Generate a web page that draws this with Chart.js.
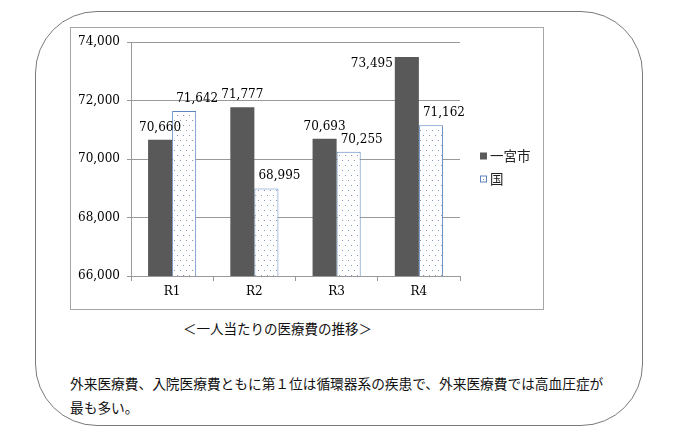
<!DOCTYPE html>
<html><head><meta charset="utf-8">
<script src="https://cdn.jsdelivr.net/npm/chart.js@4.4.1/dist/chart.umd.min.js"></script>
<style>
html,body{margin:0;padding:0;background:#fff;width:690px;height:437px;overflow:hidden;}
#outer{position:absolute;left:35px;top:11px;width:608px;height:415px;border:1.3px solid #7a7a7a;border-radius:62px;box-sizing:border-box;}
#box{position:absolute;left:70px;top:27px;width:474px;height:283px;border:1px solid #a6a6a6;box-sizing:border-box;}
#wrap{position:absolute;left:71px;top:28px;width:472px;height:281px;}
#cap{position:absolute;left:183px;top:318px;line-height:20px;font-size:13.5px;font-family:"Noto Sans CJK JP";color:#111;white-space:nowrap;}
#txt{position:absolute;left:70px;top:371px;width:540px;line-height:24px;font-size:13.7px;font-family:"Noto Sans CJK JP";color:#111;}
</style></head>
<body>
<div id="outer"></div>
<div id="box"></div>
<div id="wrap"><canvas id="c" width="472" height="281"></canvas></div>
<div id="cap">＜一人当たりの医療費の推移＞</div>
<div id="txt">外来医療費、入院医療費ともに第１位は循環器系の疾患で、外来医療費では高血圧症が最も多い。</div>
<script>
const categories = ['R1', 'R2', 'R3', 'R4'];
const seriesNames = ['一宮市', '国'];
const ichinomiya = [70660, 71777, 70693, 73495];
const kuni = [71642, 68995, 70255, 71162];
const yMin = 66000, yMax = 74000, yStep = 2000;

function makePattern() {
  const p = document.createElement('canvas');
  p.width = 6; p.height = 10;
  const g = p.getContext('2d');
  g.fillStyle = '#ffffff'; g.fillRect(0, 0, 6, 10);
  g.fillStyle = '#8096ba';
  g.fillRect(1, 2, 1, 1);
  g.fillRect(4, 7, 1, 1);
  return g.createPattern(p, 'repeat');
}
const ctx0 = document.getElementById('c').getContext('2d');
const dotPattern = makePattern();

const fmt = v => v.toLocaleString('en-US');

const valueLabels = {
  id: 'valueLabels',
  afterDatasetsDraw(chart, args, opts) {
    const ctx = chart.ctx;
    ctx.save();
    ctx.font = '12px "DejaVu Serif"';
    ctx.fillStyle = '#000';
    ctx.textBaseline = 'alphabetic';
    chart.data.datasets.forEach((ds, di) => {
      const meta = chart.getDatasetMeta(di);
      const off = (opts.offsets || [])[di] || 0;
      meta.data.forEach((el, i) => {
        const t = fmt(ds.data[i]);
        if (el.y - 9 - 9 < chart.chartArea.top) {
          ctx.textAlign = 'right';
          ctx.fillText(t, el.x - el.width / 2 - 2, el.y + 10);
        } else {
          ctx.textAlign = 'center';
          ctx.fillText(t, el.x + off, el.y - 9);
        }
      });
    });
    ctx.restore();
  }
};

const sideLegend = {
  id: 'sideLegend',
  afterDraw(chart) {
    const ctx = chart.ctx;
    ctx.save();
    const x = 409, ys = [128, 151];
    chart.data.datasets.forEach((ds, di) => {
      const y = ys[di];
      ctx.fillStyle = di === 0 ? ds.backgroundColor : '#fff';
      ctx.fillRect(x, y - 3.5, 7, 7);
      if (di === 1) {
        ctx.strokeStyle = ds.borderColor; ctx.lineWidth = 1;
        ctx.strokeRect(x + 0.5, y - 3, 6, 6);
        ctx.fillStyle = '#8096ba'; ctx.fillRect(x + 3, y, 1, 1);
      }
      ctx.fillStyle = '#222';
      ctx.font = '13.5px "Noto Sans CJK JP"';
      ctx.textAlign = 'left'; ctx.textBaseline = 'middle';
      ctx.fillText(ds.label, x + 10, y);
    });
    ctx.restore();
  }
};

new Chart(ctx0, {
  type: 'bar',
  data: {
    labels: categories,
    datasets: [
      { label: seriesNames[0], data: ichinomiya, backgroundColor: '#595959', borderWidth: 0 },
      { label: seriesNames[1], data: kuni, backgroundColor: dotPattern, borderColor: '#5b84c0', borderWidth: 1 }
    ]
  },
  options: {
    responsive: false,
    animation: false,
    layout: { padding: { top: 13, right: 83, left: 0, bottom: 0 } },
    datasets: { bar: { barPercentage: 1, categoryPercentage: 0.585 } },
    plugins: {
      legend: { display: false },
      tooltip: { enabled: false },
      valueLabels: { offsets: [0, 13] }
    },
    scales: {
      x: {
        offset: true,
        grid: { offset: true, drawOnChartArea: false, drawTicks: true, tickLength: 5, color: '#999999' },
        border: { color: '#999999' },
        ticks: { font: { family: 'DejaVu Serif', size: 12 }, color: '#000', padding: 4 },
        afterFit(s) { s.height = 33; }
      },
      y: {
        min: yMin, max: yMax,
        ticks: { stepSize: yStep, callback: v => fmt(v), font: { family: 'DejaVu Serif', size: 12 }, color: '#000', padding: 7 },
        grid: { color: '#999999', tickLength: 4 },
        border: { color: '#999999' },
        afterFit(s) { s.width = 60; }
      }
    }
  },
  plugins: [valueLabels, sideLegend]
});
</script>
</body></html>
